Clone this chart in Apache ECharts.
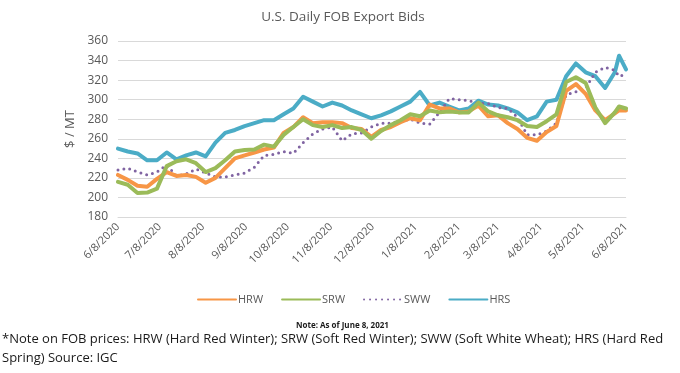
<!DOCTYPE html>
<html>
<head>
<meta charset="utf-8">
<script src="https://cdn.jsdelivr.net/npm/echarts@6/dist/echarts.min.js"></script>
<style>
html,body{margin:0;padding:0;background:#fff;}
#chart{width:680px;height:373px;}
</style>
</head>
<body>
<div id="chart"></div>
<script>
var dates = ['2020-06-08','2020-06-15','2020-06-22','2020-06-29','2020-07-06','2020-07-13','2020-07-20','2020-07-27',
'2020-08-03','2020-08-10','2020-08-17','2020-08-24','2020-08-31','2020-09-07','2020-09-14','2020-09-21','2020-09-28',
'2020-10-05','2020-10-12','2020-10-19','2020-10-26','2020-11-02','2020-11-09','2020-11-16','2020-11-23','2020-11-30',
'2020-12-07','2020-12-14','2020-12-21','2020-12-28','2021-01-04','2021-01-11','2021-01-18','2021-01-25',
'2021-02-01','2021-02-08','2021-02-15','2021-02-22','2021-03-01','2021-03-08','2021-03-15','2021-03-22','2021-03-29',
'2021-04-05','2021-04-12','2021-04-19','2021-04-26','2021-05-03','2021-05-10','2021-05-17','2021-05-24','2021-05-31',
'2021-06-03','2021-06-08'];

var hrw = [223,218,212,211,219,226,222,223,221,215,220,230,240,243,246,249,251,266,272,282,276,277,277,276,271,270,
262,269,272,277,281,279,295,291,291,287,288,294,283,284,276,270,261,258,267,273,309,316,306,289,279,286,289,289];
var srw = [216,213,204.5,205,209,232,237,239,235,226,230,238,247,248.5,249,254,252,264,272,280,274,272,274,271,272,269,
260,268,274,279,285,283,289,287,288,287,287,297,288,284,282,279,273,272,278,285,318,323,317,292,276,287,293,291];
var sww = [228,230,226,223,226,233,222,224,229,225,221,221,223,225,231,243,244,247,245,256,265,270,272,258,265,266,
272,276,276,278,280,276,275,287,301,300,299,296,296,292,291,282,264,264,268,276,305,308,312,328,333,330,324,326];
var hrs = [250,247,245,238,238,246,239,243,246,242,256,266,269,273,276,279,279,285,291,303,298,293,297,294,289,285,
281,284,288,293,298,308,294,297,293,289,291,299,295,294,291,287,279,283,298,300,324,337,328,324,312,328,345,331];

var xTickLabels = ['6/8/2020','7/8/2020','8/8/2020','9/8/2020','10/8/2020','11/8/2020','12/8/2020',
'1/8/2021','2/8/2021','3/8/2021','4/8/2021','5/8/2021','6/8/2021'];

var seriesNames = ['HRW','SRW','SWW','HRS'];
var seriesColors = ['#F79646','#9BBB59','#8064A2','#4BACC6'];
var seriesValues = [hrw, srw, sww, hrs];

var yTicks = {min:180, max:360, interval:20};

function dayNum(s){
  var p = s.split('-');
  return Date.UTC(+p[0], +p[1]-1, +p[2]) / 86400000;
}
function dayNumMDY(s){
  var p = s.split('/');
  return Date.UTC(+p[2], +p[0]-1, +p[1]) / 86400000;
}
var day0 = dayNum(dates[0]);
var tickDays = xTickLabels.map(function(l){ return dayNumMDY(l) - day0; });
var labelByDay = {};
tickDays.forEach(function(d, i){ labelByDay[d] = xTickLabels[i]; });

function pairs(vals){
  return dates.map(function(d, i){ return [dayNum(d) - day0, vals[i]]; });
}

var series = seriesNames.map(function(n, k){
  var dotted = n === 'SWW';
  return {
    name: n,
    type: 'line',
    data: pairs(seriesValues[k]),
    symbol: 'none',
    smooth: false,
    z: [3,4,2,1][k],
    lineStyle: dotted ? {color: seriesColors[k], width: 3, type: [0, 6], cap: 'round'}
                      : {color: seriesColors[k], width: 4, cap: 'round', join: 'round'},
    itemStyle: {color: seriesColors[k]}
  };
});

var chart = echarts.init(document.getElementById('chart'), null, {renderer: 'canvas'});
chart.setOption({
  animation: false,
  backgroundColor: '#fff',
  title: {
    text: 'U.S. Daily FOB Export Bids',
    left: 338, top: 5, textAlign: 'center',
    textStyle: {fontFamily: 'Open Sans', fontSize: 13.5, fontWeight: 'normal', color: '#595959'}
  },
  legend: {
    data: seriesNames,
    left: 192, top: 289,
    itemWidth: 38, itemHeight: 8, itemGap: 18,
    itemStyle: {opacity: 0},
    textStyle: {fontFamily: 'Open Sans', fontSize: 11, color: '#595959', padding: [0, 0, 0, -3]}
  },
  grid: {left: 118, right: 54, top: 41, bottom: 156, containLabel: false},
  xAxis: {
    type: 'value',
    min: tickDays[0], max: tickDays[tickDays.length - 1],
    axisLine: {show: true, lineStyle: {color: '#d9d9d9'}},
    axisTick: {show: false},
    splitLine: {show: false},
    axisLabel: {
      customValues: tickDays,
      rotate: 45,
      color: '#595959',
      fontFamily: 'Open Sans',
      fontSize: 11,
      margin: 8,
      formatter: function(v){ return labelByDay[Math.round(v)] || ''; }
    }
  },
  yAxis: {
    type: 'value',
    min: yTicks.min, max: yTicks.max, interval: yTicks.interval,
    name: '$ / MT',
    nameLocation: 'middle',
    nameGap: 40,
    nameRotate: 90,
    nameTextStyle: {fontFamily: 'Open Sans', fontSize: 13, color: '#595959'},
    axisLine: {show: false},
    axisTick: {show: false},
    splitLine: {lineStyle: {color: '#d9d9d9', width: 1}},
    axisLabel: {color: '#595959', fontFamily: 'Open Sans', fontSize: 12, margin: 10}
  },
  graphic: [
    {type: 'text', left: 296, top: 322,
     style: {text: 'Note: As of June 8, 2021', font: 'bold 8px "Open Sans"', fill: '#1a1a1a'}},
    {type: 'text', left: 2, top: 333,
     style: {text: '*Note on FOB prices: HRW (Hard Red Winter); SRW (Soft Red Winter); SWW (Soft White Wheat); HRS (Hard Red',
             font: '13px "Open Sans"', fill: '#1a1a1a'}},
    {type: 'text', left: 2, top: 352,
     style: {text: 'Spring) Source: IGC', font: '13px "Open Sans"', fill: '#1a1a1a'}}
  ],
  series: series
});
</script>
</body>
</html>
